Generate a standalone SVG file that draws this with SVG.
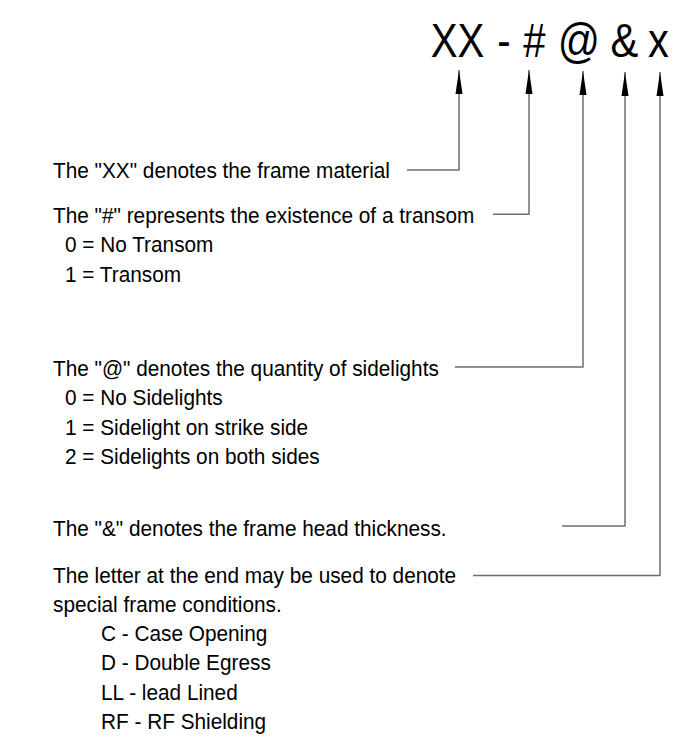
<svg xmlns="http://www.w3.org/2000/svg" width="686" height="750" viewBox="0 0 686 750">
<style>
  .t{font-family:"Liberation Sans",Arial,sans-serif;font-size:22px;fill:#000}
  .big{font-family:"Liberation Sans",Arial,sans-serif;font-size:49px;fill:#000;text-anchor:middle}
  .c{fill:none;stroke:#6e6e6e;stroke-width:1.5}
</style>
<defs>
  <marker id="ah" markerUnits="userSpaceOnUse" markerWidth="26" markerHeight="10" refX="24" refY="4" orient="auto">
    <path d="M0,0.5 L24,4 L0,7.5 Z" fill="#000"/>
  </marker>
</defs>
<rect width="686" height="750" fill="#fff"/>
<g id="code">
  <text class="big" transform="translate(457.5,57) scale(0.82,1)">XX</text>
  <text class="big" transform="translate(504,57) scale(0.82,1)">-</text>
  <text class="big" transform="translate(534.5,57) scale(0.82,1)">#</text>
  <text class="big" transform="translate(579,57) scale(0.85,1)">@</text>
  <text class="big" transform="translate(624.5,57) scale(0.85,1)">&amp;</text>
  <text class="big" transform="translate(658.5,57) scale(0.85,1)">x</text>
</g>
<g id="connectors">
  <path class="c" d="M407,170 H459 V70" marker-end="url(#ah)"/>
  <path class="c" d="M493,214.3 H529 V70" marker-end="url(#ah)"/>
  <path class="c" d="M455,367 H583 V71" marker-end="url(#ah)"/>
  <path class="c" d="M562,526 H625 V72" marker-end="url(#ah)"/>
  <path class="c" d="M473,575.5 H660 V72" marker-end="url(#ah)"/>
</g>
<g transform="scale(0.945,1)">
<g id="material">
  <text class="t" x="56.1" y="178">The "XX" denotes the frame material</text>
</g>
<g id="transom">
  <text class="t" x="56.1" y="223">The "#" represents the existence of a transom</text>
  <text class="t" x="68.8" y="252.5">0 = No Transom</text>
  <text class="t" x="68.8" y="282">1 = Transom</text>
</g>
<g id="sidelights">
  <text class="t" x="56.1" y="376">The "@" denotes the quantity of sidelights</text>
  <text class="t" x="68.8" y="405.5">0 = No Sidelights</text>
  <text class="t" x="68.8" y="435">1 = Sidelight on strike side</text>
  <text class="t" x="68.8" y="464.5">2 = Sidelights on both sides</text>
</g>
<g id="head">
  <text class="t" x="56.1" y="536">The "&amp;" denotes the frame head thickness.</text>
</g>
<g id="letter">
  <text class="t" x="56.1" y="583">The letter at the end may be used to denote</text>
  <text class="t" x="56.1" y="612">special frame conditions.</text>
  <text class="t" x="106.9" y="641">C - Case Opening</text>
  <text class="t" x="106.9" y="670.5">D - Double Egress</text>
  <text class="t" x="106.9" y="700">LL - lead Lined</text>
  <text class="t" x="106.9" y="729.5">RF - RF Shielding</text>
</g>
</g>
</svg>
